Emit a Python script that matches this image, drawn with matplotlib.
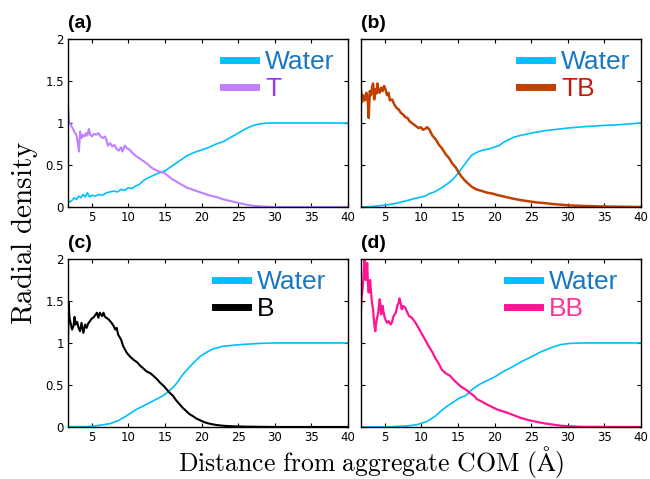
import matplotlib
matplotlib.use("Agg")
import matplotlib.pyplot as plt
import numpy as np

plt.rcParams['mathtext.fontset'] = 'cm'

# ---- panel (a): Water / T ----
a_water_x = [1.75, 2.0, 2.3, 2.6, 2.9, 3.2, 3.5, 3.8, 4.1, 4.4, 4.7, 5.0, 5.5, 6.0, 6.5, 7.0, 7.5, 8.0, 8.5, 9.0, 9.5, 10.0,
             10.5, 11.0, 11.5, 12.0, 12.5, 13.0, 13.5, 14.0, 15.0, 16.0, 17.0, 18.0, 19.0, 20.0, 21.0, 22.0, 23.0, 24.0,
             25.0, 26.0, 27.0, 28.0, 29.0, 30.0, 32.0, 35.0, 40.0]
a_water_y = [0.07, 0.06, 0.08, 0.11, 0.09, 0.13, 0.11, 0.15, 0.12, 0.17, 0.12, 0.14, 0.13, 0.15, 0.14, 0.17, 0.18, 0.19, 0.18, 0.21, 0.20, 0.23,
             0.22, 0.25, 0.27, 0.31, 0.34, 0.36, 0.38, 0.40, 0.43, 0.49, 0.55, 0.61, 0.65, 0.68, 0.71, 0.75, 0.78, 0.83,
             0.88, 0.93, 0.97, 0.99, 1.0, 1.0, 1.0, 1.0, 1.0]
a_t_x = [1.75, 1.9, 2.1, 2.3, 2.5, 2.7, 2.9, 3.1, 3.25, 3.4, 3.6, 3.8, 4.0, 4.2, 4.4, 4.6, 4.8, 5.0, 5.3, 5.6, 5.9, 6.2, 6.5,
         6.8, 7.0, 7.2, 7.5, 7.8, 8.1, 8.4, 8.7, 9.0, 9.2, 9.5, 9.8, 10.2, 10.6, 11.0, 11.5, 12.0, 12.5, 13.0, 13.5, 14.0,
         15.0, 16.0, 17.0, 18.0, 19.0, 20.0, 21.0, 22.0, 23.0, 24.0, 25.0, 26.0, 27.0, 28.0, 29.0, 30.0, 35.0, 40.0]
a_t_y = [1.2, 1.02, 0.98, 0.95, 0.92, 0.88, 0.86, 0.76, 0.66, 0.90, 0.82, 0.86, 0.84, 0.88, 0.85, 0.93, 0.86, 0.84, 0.87, 0.86, 0.88, 0.84, 0.82,
         0.84, 0.80, 0.73, 0.76, 0.72, 0.74, 0.69, 0.67, 0.71, 0.66, 0.73, 0.70, 0.68, 0.64, 0.61, 0.58, 0.55, 0.52, 0.48, 0.45, 0.43,
         0.40, 0.33, 0.28, 0.23, 0.20, 0.17, 0.14, 0.12, 0.09, 0.07, 0.05, 0.03, 0.015, 0.008, 0.003, 0.0, 0.0, 0.0]

# ---- panel (b): Water / TB ----
b_water_x = [1.75, 3.0, 4.4, 5.5, 6.6, 7.5, 8.4, 9.0, 9.8, 10.5, 11.1, 11.8, 12.4, 13.3, 14.2, 15.1, 16.0, 16.9, 17.8, 18.5,
             19.2, 19.8, 20.6, 21.2, 21.9, 22.6, 23.4, 24.5, 25.6, 27.0, 28.0, 30.0, 32.0, 34.7, 37.0, 40.0]
b_water_y = [0.0, 0.005, 0.016, 0.028, 0.045, 0.065, 0.085, 0.10, 0.115, 0.13, 0.16, 0.18, 0.21, 0.26, 0.32, 0.41, 0.52, 0.62, 0.66, 0.68,
             0.69, 0.71, 0.73, 0.77, 0.80, 0.83, 0.85, 0.87, 0.89, 0.91, 0.92, 0.94, 0.955, 0.97, 0.98, 1.0]
b_tb_x = [1.75, 1.9, 2.1, 2.3, 2.5, 2.65, 2.8, 2.95, 3.1, 3.25, 3.4, 3.55, 3.7, 3.85, 4.0, 4.15, 4.3, 4.5, 4.7, 4.9, 5.1, 5.3,
          5.5, 5.7, 6.0, 6.3, 6.6, 6.9, 7.2, 7.5, 7.8, 8.1, 8.4, 8.7, 9.0, 9.3, 9.6, 9.9, 10.2, 10.5, 10.8, 11.1, 11.5,
          12.0, 12.4, 12.8, 13.3, 13.8, 14.2, 14.7, 15.1, 15.5, 16.0, 16.5, 16.9, 17.5, 18.3, 19.0, 19.7, 20.5, 21.5, 22.5,
          23.4, 24.5, 25.6, 27.0, 27.9, 30.1, 32.4, 35.0, 37.0, 40.0]
b_tb_y = [1.39, 1.25, 1.33, 1.27, 1.36, 1.30, 1.06, 1.38, 1.33, 1.42, 1.47, 1.28, 1.40, 1.35, 1.47, 1.38, 1.36, 1.42, 1.38, 1.44, 1.40, 1.33,
          1.36, 1.27, 1.28, 1.22, 1.18, 1.16, 1.12, 1.10, 1.07, 1.06, 1.02, 1.00, 0.98, 0.96, 0.94, 0.95, 0.92, 0.93, 0.95, 0.92, 0.85,
          0.80, 0.74, 0.70, 0.63, 0.58, 0.52, 0.47, 0.41, 0.36, 0.31, 0.27, 0.24, 0.21, 0.19, 0.17, 0.16, 0.14, 0.12, 0.10,
          0.085, 0.07, 0.056, 0.045, 0.036, 0.02, 0.012, 0.006, 0.004, 0.0]

# ---- panel (c): Water / B ----
c_water_x = [1.75, 4.3, 5.0, 6.1, 7.5, 8.6, 9.8, 11.1, 12.5, 13.8, 14.7, 15.6, 16.5, 17.4, 18.3, 19.2, 19.8, 20.7, 21.6,
             22.9, 25.2, 28.0, 30.0, 40.0]
c_water_y = [0.004, 0.004, 0.008, 0.02, 0.04, 0.075, 0.135, 0.21, 0.27, 0.33, 0.37, 0.43, 0.51, 0.62, 0.71, 0.79, 0.84, 0.89, 0.93,
             0.96, 0.98, 0.995, 1.0, 1.0]
c_b_x = [1.75, 1.85, 1.95, 2.1, 2.3, 2.5, 2.65, 2.8, 3.0, 3.2, 3.4, 3.6, 3.85, 4.1, 4.3, 4.5, 4.75, 5.0, 5.3, 5.7, 5.9,
         6.1, 6.4, 6.6, 6.8, 7.0, 7.3, 7.7, 8.0, 8.2, 8.4, 8.6, 9.0, 9.3, 9.8, 10.2, 10.7, 11.2, 11.6, 12.0, 12.5, 13.0,
         13.4, 13.9, 14.3, 14.8, 15.2, 15.6, 16.1, 16.5, 17.0, 17.4, 17.9, 18.4, 18.8, 19.3, 19.8, 20.3, 20.7, 21.3,
         22.0, 23.0, 24.3, 26.0, 28.0, 30.0, 40.0]
c_b_y = [1.02, 1.48, 1.30, 1.24, 1.16, 1.20, 1.31, 1.22, 1.25, 1.18, 1.14, 1.24, 1.12, 1.22, 1.18, 1.23, 1.26, 1.29, 1.31, 1.36, 1.30,
         1.36, 1.32, 1.36, 1.31, 1.30, 1.28, 1.24, 1.20, 1.16, 1.18, 1.10, 1.04, 0.96, 0.88, 0.84, 0.80, 0.77, 0.73, 0.70, 0.66, 0.64,
         0.61, 0.57, 0.53, 0.49, 0.45, 0.41, 0.37, 0.32, 0.27, 0.23, 0.19, 0.15, 0.13, 0.10, 0.08, 0.06, 0.048, 0.035,
         0.024, 0.014, 0.008, 0.004, 0.002, 0.0, 0.0]

# ---- panel (d): Water / BB ----
d_water_x = [1.75, 5.3, 8.0, 9.4, 10.8, 11.9, 12.8, 13.4, 13.9, 14.6, 15.3, 16.0, 16.7, 17.3, 18.0, 18.7, 19.4, 20.1, 20.8,
             21.4, 22.1, 23.5, 24.9, 26.2, 27.6, 29.0, 30.3, 32.0, 40.0]
d_water_y = [0.0, 0.0, 0.012, 0.028, 0.067, 0.13, 0.20, 0.24, 0.27, 0.31, 0.35, 0.37, 0.43, 0.47, 0.51, 0.54, 0.57, 0.60, 0.64,
             0.67, 0.70, 0.77, 0.83, 0.89, 0.94, 0.98, 0.995, 1.0, 1.0]
d_bb_x = [1.75, 1.85, 2.0, 2.1, 2.25, 2.4, 2.5, 2.6, 2.7, 2.8, 2.9, 3.0, 3.1, 3.25, 3.4, 3.5, 3.6, 3.7, 3.8, 3.9, 4.1,
          4.3, 4.4, 4.5, 4.6, 4.7, 4.8, 5.0, 5.3, 5.5, 5.8, 6.0, 6.2, 6.5, 6.7, 6.9, 7.0, 7.2, 7.3, 7.5, 7.8, 8.0, 8.3,
          8.7, 9.2, 9.6, 10.1, 10.5, 11.0, 11.5, 11.9, 12.4, 12.8, 13.3, 13.9, 14.4, 14.9, 15.4, 15.8, 16.3, 16.7, 17.2,
          17.6, 18.3, 18.9, 19.6, 20.3, 21.0, 21.7, 22.6, 23.5, 24.7, 25.8, 27.0, 28.0, 29.0, 30.3, 32.0, 40.0]
d_bb_y = [1.40, 1.55, 1.67, 1.80, 2.05, 1.75, 1.85, 1.95, 1.70, 1.60, 1.72, 1.75, 1.62, 1.48, 1.40, 1.28, 1.20, 1.14, 1.22, 1.28, 1.36,
          1.52, 1.46, 1.34, 1.40, 1.44, 1.38, 1.30, 1.24, 1.26, 1.22, 1.25, 1.32, 1.36, 1.44, 1.48, 1.53, 1.46, 1.40, 1.44, 1.42, 1.38, 1.32,
          1.30, 1.24, 1.18, 1.10, 1.04, 0.96, 0.89, 0.82, 0.75, 0.68, 0.64, 0.61, 0.56, 0.52, 0.48, 0.46, 0.43, 0.40, 0.37,
          0.33, 0.30, 0.27, 0.24, 0.21, 0.19, 0.17, 0.14, 0.11, 0.08, 0.06, 0.04, 0.028, 0.016, 0.008, 0.002, 0.0]

water_color = "#00bfff"
panels = [
    ("(a)", a_water_x, a_water_y, a_t_x, a_t_y, "T", "#c080ff", "#9933ff", 1.5),
    ("(b)", b_water_x, b_water_y, b_tb_x, b_tb_y, "TB", "#c04000", "#c01a0a", 1.8),
    ("(c)", c_water_x, c_water_y, c_b_x, c_b_y, "B", "#000000", "#000000", 1.5),
    ("(d)", d_water_x, d_water_y, d_bb_x, d_bb_y, "BB", "#ff1493", "#ff3399", 1.6),
]
legend_anchor_x = [0.975, 0.986, 0.946, 0.943]

fig = plt.figure(figsize=(6.5, 4.79), dpi=100)
boxes = [
    [0.1046, 0.5678, 0.4308, 0.3508],
    [0.5554, 0.5678, 0.4308, 0.3508],
    [0.1046, 0.1086, 0.4308, 0.3508],
    [0.5554, 0.1086, 0.4308, 0.3508],
]

for i, (tag, wx, wy, sx, sy, name, lcol, tcol, lw) in enumerate(panels):
    ax = fig.add_axes(boxes[i])
    ax.plot(wx, wy, color=water_color, lw=1.2, label="Water")
    ax.plot(sx, sy, color=lcol, lw=lw, label=name)
    ax.set_xlim(1.75, 40)
    ax.set_ylim(0, 2)
    ax.set_xticks([5, 10, 15, 20, 25, 30, 35, 40])
    ax.set_yticks([0, 0.5, 1, 1.5, 2])
    ax.set_yticklabels(["0", "0.5", "1", "1.5", "2"])
    ax.tick_params(direction="in", top=True, right=True, length=3, labelsize=8.5, pad=3)
    if i % 2 == 1:
        ax.set_yticklabels([])
    for s in ax.spines.values():
        s.set_linewidth(1.0)
    leg = ax.legend(loc="upper right", bbox_to_anchor=(legend_anchor_x[i], 0.975), frameon=False,
                    prop={"family": "Liberation Sans", "size": 19},
                    handlelength=1.25, handletextpad=0.35, labelspacing=0.12, borderaxespad=0.0,
                    borderpad=0.25)
    for h in leg.get_lines():
        h.set_linewidth(5)
    leg.get_texts()[0].set_color("#1a78c2")
    leg.get_texts()[1].set_color(tcol)
    ax.text(0.0, 1.04, tag, transform=ax.transAxes, fontsize=14, fontweight="bold",
            family="Liberation Sans", ha="left", va="bottom")

fig.text(0.038, 0.515, r"$\mathrm{Radial\ density}$", rotation=90, ha="center", va="center", fontsize=21)
fig.text(0.571, 0.035, r"$\mathrm{Distance\ from\ aggregate\ COM\ (\AA)}$", ha="center", va="center", fontsize=18.5)

fig.savefig("out.png", dpi=100)
